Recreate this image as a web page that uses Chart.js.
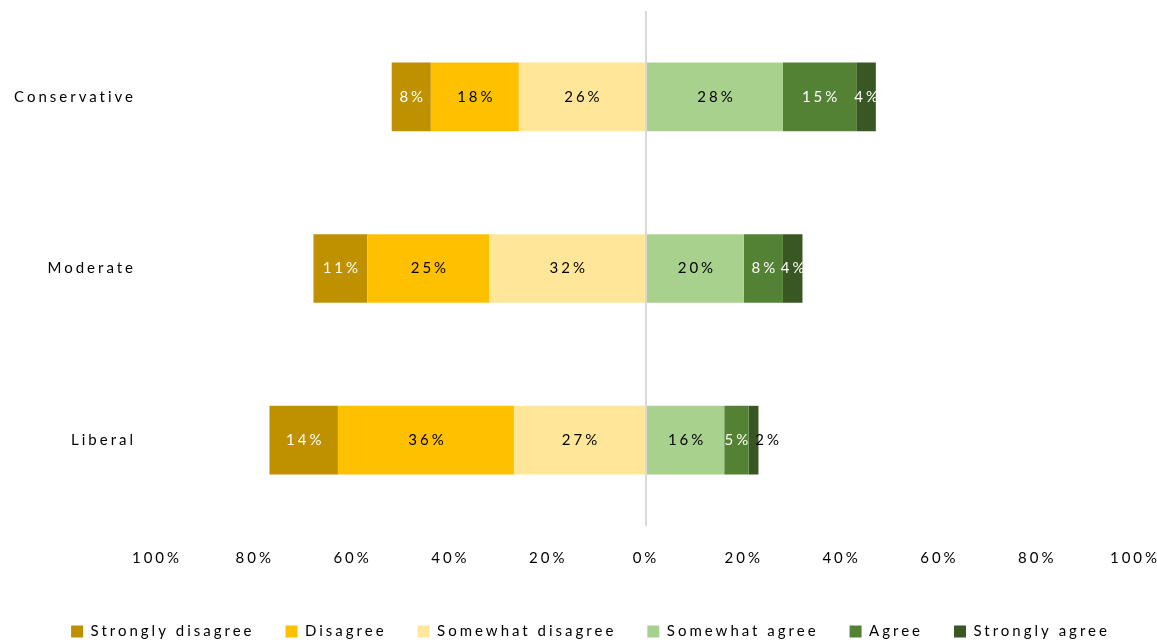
<!DOCTYPE html>
<html>
<head>
<meta charset="utf-8">
<title>Agreement by political leaning</title>
<script src="https://cdn.jsdelivr.net/npm/chart.js@4.4.1/dist/chart.umd.min.js"></script>
<style>
    html, body { margin: 0; padding: 0; background: #fff; }
    #wrap { width: 1157px; height: 643px; }
</style>
</head>
<body>
<div id="wrap"><canvas id="likertChart"></canvas></div>
<script>
var groups = ['Conservative', 'Moderate', 'Liberal'];

// percentages per answer, one value per group
var stronglyDisagree = [8, 11, 14];
var disagree = [18, 25, 36];
var somewhatDisagree = [26, 32, 27];
var somewhatAgree = [28, 20, 16];
var agree = [15, 8, 5];
var stronglyAgree = [4, 4, 2];

var answerNames = ['Strongly disagree', 'Disagree', 'Somewhat disagree', 'Somewhat agree', 'Agree', 'Strongly agree'];
var answerColors = ['#BF9000', '#FFC000', '#FFE699', '#A9D18E', '#548235', '#385723'];
var valueColors = ['#fff', '#000', '#000', '#000', '#fff', '#fff'];
// stacking order: the answers nearest the middle go first on each side
var stackOrder = [3, 2, 1, 4, 5, 6];

var LETTER_SPACING = '3px';

Chart.defaults.font.family = 'Lato';
Chart.defaults.color = '#000';

function negate(arr) {
    return arr.map(function (v) { return -v; });
}

var series = [negate(stronglyDisagree), negate(disagree), negate(somewhatDisagree),
              somewhatAgree, agree, stronglyAgree];

var datasets = series.map(function (values, i) {
    return {
        label: answerNames[i],
        data: values,
        backgroundColor: answerColors[i],
        borderWidth: 0,
        order: stackOrder[i],
        valueColor: valueColors[i]
    };
});

// wide tracking on all canvas text
var spacedText = {
    id: 'spacedText',
    beforeLayout: function (chart) { chart.ctx.letterSpacing = LETTER_SPACING; },
    beforeDraw: function (chart) { chart.ctx.letterSpacing = LETTER_SPACING; }
};

// nudge the legend row a little to the right
var legendShift = {
    id: 'legendShift',
    afterLayout: function (chart) { chart.legend.left += 24; }
};

// value labels inside each segment, pushed to the right when they collide
var segmentLabels = {
    id: 'segmentLabels',
    afterDatasetsDraw: function (chart) {
        var ctx = chart.ctx;
        ctx.save();
        ctx.letterSpacing = LETTER_SPACING;
        ctx.font = '15px Lato';
        ctx.textAlign = 'left';
        ctx.textBaseline = 'middle';
        groups.forEach(function (g, row) {
            var prevRight = -Infinity;
            chart.data.datasets.forEach(function (ds, d) {
                var bar = chart.getDatasetMeta(d).data[row];
                var text = Math.abs(ds.data[row]) + '%';
                var w = ctx.measureText(text).width - 3; // drop trailing spacing
                var left = (bar.x + bar.base) / 2 - w / 2;
                var color = ds.valueColor;
                if (left < prevRight + 2) {
                    left = prevRight + 7;
                    color = '#000';
                }
                ctx.fillStyle = color;
                ctx.fillText(text, left, bar.y);
                prevRight = left + w;
            });
        });
        ctx.restore();
    }
};

var ctx = document.getElementById('likertChart').getContext('2d');
var chart = new Chart(ctx, {
    type: 'bar',
    data: {
        labels: groups,
        datasets: datasets
    },
    options: {
        indexAxis: 'y',
        responsive: true,
        maintainAspectRatio: false,
        animation: false,
        layout: {
            padding: { top: 11, right: 0, bottom: -6, left: 0 }
        },
        datasets: {
            bar: { barPercentage: 0.4, categoryPercentage: 1 }
        },
        scales: {
            x: {
                stacked: true,
                min: -100,
                max: 100,
                z: 1,
                border: { display: false },
                grid: {
                    drawTicks: false,
                    lineWidth: 2,
                    color: function (c) {
                        return c.tick && c.tick.value === 0 ? '#D9D9D9' : 'rgba(0,0,0,0)';
                    }
                },
                ticks: {
                    stepSize: 20,
                    padding: 23,
                    font: { size: 15 },
                    color: '#000',
                    callback: function (v) { return Math.abs(v) + '%'; }
                },
                afterFit: function (scale) {
                    scale.height = 67;
                    scale.paddingLeft = 0;
                    scale.paddingRight = 22;
                }
            },
            y: {
                stacked: true,
                border: { display: false },
                grid: { display: false, drawTicks: false },
                ticks: {
                    padding: 21,
                    font: { size: 15 },
                    color: '#000'
                },
                afterFit: function (scale) {
                    scale.width = 157;
                    scale.paddingTop = 0;
                    scale.paddingBottom = 0;
                }
            }
        },
        plugins: {
            tooltip: { enabled: false },
            legend: {
                position: 'bottom',
                labels: {
                    boxWidth: 12,
                    boxHeight: 12,
                    padding: 31,
                    font: { size: 15 },
                    color: '#000',
                    sort: function (a, b) { return a.datasetIndex - b.datasetIndex; }
                }
            }
        }
    },
    plugins: [spacedText, legendShift, segmentLabels]
});
</script>
</body>
</html>
